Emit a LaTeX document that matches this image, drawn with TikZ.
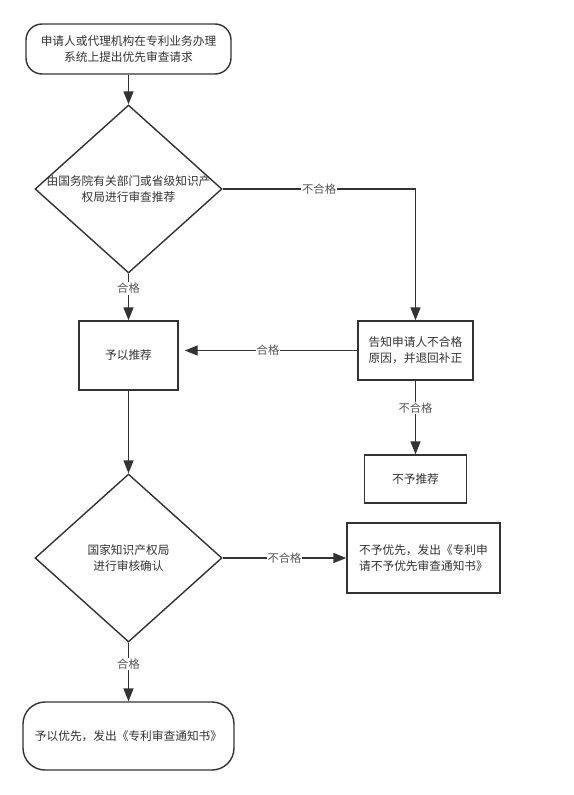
\documentclass[tikz,border=0pt]{standalone}
\usepackage{fontspec}
\setmainfont{Noto Sans CJK SC}
\usepackage{tikz}
\usetikzlibrary{arrows.meta}
\usetikzlibrary{shapes.geometric}
\definecolor{linegray}{HTML}{333333}
\definecolor{labelgray}{HTML}{555555}
\tikzstyle{line} = [draw=linegray, -{Triangle[length=13pt,width=10pt]}]
\tikzset{
	startstop/.style={draw=linegray, rectangle, rounded corners=16pt, align=center, text=linegray},
	process/.style={draw=linegray, rectangle, align=center, text=linegray},
	decision/.style={draw=linegray, diamond, minimum width=187pt, minimum height=168pt, inner sep=0pt},
	pass/.style={fill=white, text=labelgray, font=\fontsize{11.3pt}{13pt}\selectfont, inner sep=1pt},
}

\begin{document}
\begin{tikzpicture}[x=1pt, y=-1pt, line width=1.4pt, font=\fontsize{11.7pt}{16pt}\selectfont]
	\useasboundingbox[fill=white] (0,0) rectangle (573,795);
	% left column
	\node[startstop, minimum width=205pt, minimum height=50pt] (start) at (128.5,49)
		{申请人或代理机构在专利业务办理\\系统上提出优先审查请求};
	\node[decision, label={[align=center, text=linegray]center:由国务院有关部门或省级知识产\\权局进行审查推荐}] (dia1) at (128.5,189) {};
	\node[process, minimum width=99pt, minimum height=69pt] (rec) at (128.5,355.5) {予以推荐};
	\node[decision, label={[align=center, text=linegray]center:国家知识产权局\\进行审核确认}] (dia2) at (128.5,558) {};
	\node[startstop, rounded corners=22pt, minimum width=211pt, minimum height=68pt] (final) at (128.5,736)
		{予以优先，发出《专利审查通知书》};
	% right column
	\node[process, minimum width=115pt, minimum height=59pt] (notify) at (415.5,350.5)
		{告知申请人不合格\\原因，并退回补正};
	\node[process, minimum width=102pt, minimum height=48pt] (refuse) at (415.5,479) {不予推荐};
	\node[process, minimum width=153pt, minimum height=70pt] (deny) at (423.5,558)
		{不予优先，发出《专利申\\请不予优先审查通知书》};

	\draw[line] (start.south) -- (dia1.north);
	\draw[line] (dia1.south) -- node[pass, pos=0.32] {合格} (rec.north);
	\draw[line] (dia1.east) -| node[pass, pos=0.25] {不合格} (notify.north);
	\draw[line, shorten >=6pt] (notify.west) -- node[pass] {合格} (notify.west -| rec.east);
	\draw[line] (notify.south) -- node[pass, pos=0.37] {不合格} (refuse.north);
	\draw[line] (rec.south) -- (dia2.north);
	\draw[line] (dia2.east) -- node[pass] {不合格} (deny.west);
	\draw[line] (dia2.south) -- node[pass, pos=0.36] {合格} (final.north);
\end{tikzpicture}
\end{document}
